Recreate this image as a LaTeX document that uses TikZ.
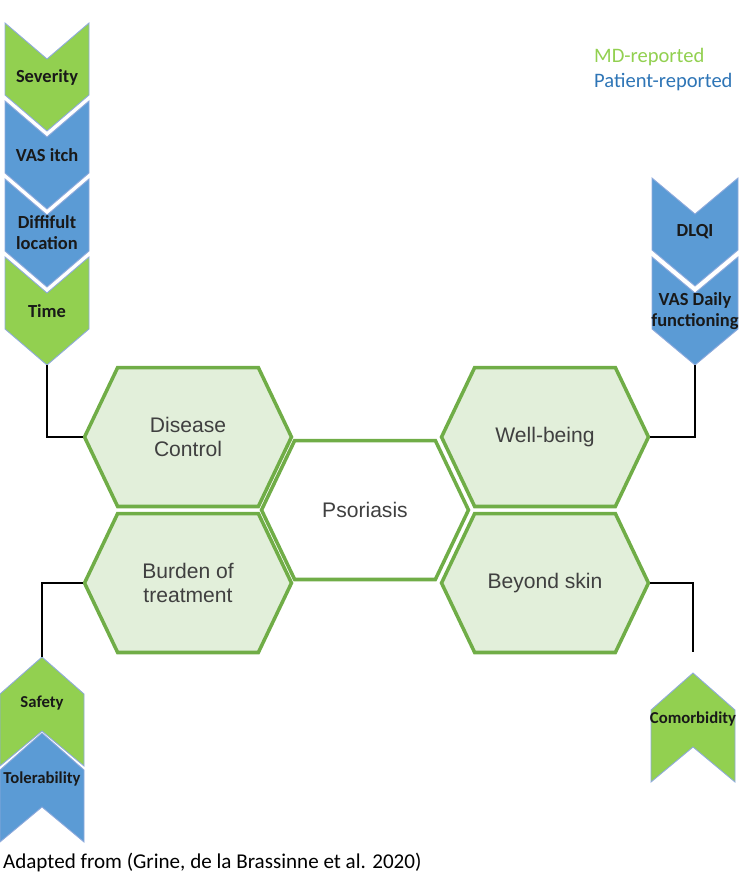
\documentclass[tikz,border=0pt]{standalone}
\usepackage{fontspec}
\setmainfont{Liberation Sans}
\newfontfamily\cali{Carlito}
\usetikzlibrary{shapes.symbols,positioning}
\definecolor{cmd}{RGB}{146,208,80}
\definecolor{cpat}{RGB}{91,155,213}
\definecolor{cedge}{RGB}{143,170,220}
\definecolor{chexf}{RGB}{226,239,218}
\definecolor{chexd}{RGB}{112,173,71}
\definecolor{ctxt}{RGB}{64,64,64}
\definecolor{cleg}{RGB}{46,117,182}

\begin{document}
\begin{tikzpicture}[x=0.02cm,y=-0.02cm,
  hexa/.style={signal,signal to=west and east,signal pointer angle=129,draw=chexd,line width=2pt,
    fill=chexf,minimum width=4.14cm,minimum height=2.78cm,inner sep=0pt,align=center,
    text=ctxt,font=\fontsize{12}{13.5}\selectfont},
  chev/.style={draw=cedge,line width=0.5pt},
  chlab/.style={align=center,inner sep=0pt,text=black!90,font=\cali\bfseries\fontsize{10.5}{12}\selectfont},
  chsml/.style={chlab,font=\cali\bfseries\fontsize{9.5}{11}\selectfont},
  link/.style={line width=1.4pt}
]
\useasboundingbox (0,0) rectangle (750,883);

% ---- hexagons ----
\node[hexa] (dc) at (188,437) {Disease\\Control};
\node[hexa] (bt) at (188,583) {Burden of\\treatment};
\node[hexa,fill=white] (ps) at (365,510) {Psoriasis};
\node[hexa] (wb) at (545,437) {Well-being};
\node[hexa] (bs) at (545,583) {Beyond skin};

% ---- chevrons left, top ----
\foreach \t/\c [count=\i from 0] in {Severity/cmd,VAS itch/cpat,{Diffifult\\location}/cpat,Time/cmd} {
  \pgfmathsetmacro\ty{23+78*\i}
  \filldraw[chev,fill=\c] (5,\ty) -- (47,\ty+36) -- (89,\ty) -- (89,\ty+72) -- (47,\ty+108) -- (5,\ty+72) -- cycle;
  \node[chlab] (lc-\i) at (47,\ty+54) {\t};
  \coordinate (lc-\i-tip) at (47,\ty+108);
}

% ---- chevrons right, top ----
\foreach \t [count=\i from 0] in {DLQI,{VAS Daily\\functioning}} {
  \pgfmathsetmacro\ty{178+79*\i}
  \filldraw[chev,fill=cpat] (652,\ty) -- (695,\ty+36) -- (738,\ty) -- (738,\ty+72) -- (695,\ty+108) -- (652,\ty+72) -- cycle;
  \node[chlab] (rc-\i) at (695,\ty+54) {\t};
  \coordinate (rc-\i-tip) at (695,\ty+108);
}

% ---- chevrons bottom ----
\foreach \t/\c/\cx/\ty [count=\i from 0] in {Safety/cmd/42/657,Tolerability/cpat/42/733,Comorbidity/cmd/693/673} {
  \filldraw[chev,fill=\c] (\cx,\ty) -- (\cx+42,\ty+37) -- (\cx+42,\ty+109) -- (\cx,\ty+74) -- (\cx-42,\ty+109) -- (\cx-42,\ty+37) -- cycle;
  \node[chsml] (bc-\i) at (\cx,\ty+46) {\t};
  \coordinate (bc-\i-tip) at (\cx,\ty);
}

% ---- connectors ----
\coordinate (cmend) at (693,652);
\draw[link] (lc-3-tip) |- (dc.west);
\draw[link] (bt.west) -| (bc-0-tip);
\draw[link] (wb.east) -| (rc-1-tip);
\draw[link] (bs.east) -| (cmend);

% ---- legend and source ----
\node[anchor=west,font=\cali\fontsize{11.7}{13}\selectfont,text=cmd] (lg-md) at (588,57) {MD-reported};
\node[anchor=west,font=\cali\fontsize{11.7}{13}\selectfont,text=cleg] (lg-pt) at (588,82) {Patient-reported};
\node[anchor=west,inner sep=1pt,font=\cali\fontsize{12}{14}\selectfont] (src) at (1,862) {Adapted from (Grine, de la Brassinne et al. 2020)};
\end{tikzpicture}
\end{document}
